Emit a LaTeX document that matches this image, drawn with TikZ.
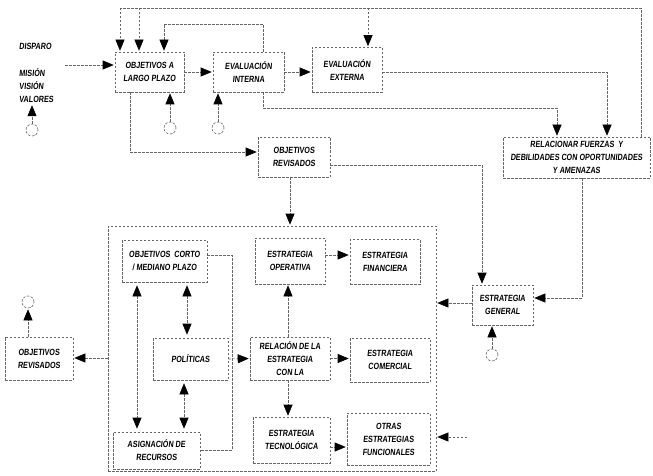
\documentclass[tikz,border=0pt]{standalone}
\usepackage{fontspec}
\setmainfont{Liberation Sans}[BoldFont={Liberation Sans Bold},FakeStretch=0.8,FakeSlant=0.1]
\usetikzlibrary{arrows.meta}
\begin{document}
\begin{tikzpicture}[x=1pt,y=-1pt,
  ln/.style={draw=black!60, line width=0.6pt, dash pattern=on 2.5pt off 1.5pt},
  arr/.style={ln, -{Triangle[length=11pt,width=9pt,color=black]}, shorten >=1pt},
  arrb/.style={ln, {Triangle[length=11pt,width=9pt,color=black]}-{Triangle[length=11pt,width=9pt,color=black]}, shorten >=3pt, shorten <=3pt},
  txt/.style={align=center, inner sep=1pt, font=\bfseries\fontsize{9}{13}\selectfont},
  box/.style={ln, rectangle, txt},
  circ/.style={ln, circle, minimum size=12pt, inner sep=0pt}]
\useasboundingbox (0,0) rectangle (653,476);

% texts on the left
\node[txt, anchor=west] (disparo) at (18,46) {DISPARO};
\node[txt, anchor=west, align=left] (mvv) at (18,86) {MISIÓN\\VISIÓN\\VALORES};

% upper row
\node[box, minimum width=69pt, minimum height=40pt] (largo) at (149.5,72) {OBJETIVOS A\\LARGO PLAZO};
\node[box, minimum width=71pt, minimum height=40pt] (interna) at (248.5,72) {EVALUACIÓN\\INTERNA};
\node[box, minimum width=70pt, minimum height=45pt] (externa) at (347,70) {EVALUACIÓN\\EXTERNA};
\node[box, minimum width=72pt, minimum height=40pt] (revis1) at (294,157) {OBJETIVOS\\REVISADOS};
\node[box, minimum width=147pt, minimum height=41pt] (relac) at (576.5,157.5) {RELACIONAR FUERZAS \ Y\\DEBILIDADES CON OPORTUNIDADES\\Y AMENAZAS};

% big box
\node[ln, rectangle, minimum width=328pt, minimum height=245pt] (big) at (272,348.5) {};
\node[box, minimum width=85pt, minimum height=42pt] (corto) at (164.5,261) {OBJETIVOS \ CORTO\\/ MEDIANO PLAZO};
\node[box, minimum width=70pt, minimum height=46pt] (operativa) at (290,261) {ESTRATEGIA\\OPERATIVA};
\node[box, minimum width=70pt, minimum height=45pt] (financiera) at (385,262) {ESTRATEGIA\\FINANCIERA};
\node[box, minimum width=75pt, minimum height=42pt] (politicas) at (190.5,359) {POLÍTICAS};
\node[box, minimum width=80pt, minimum height=43pt] (relacion) at (290,358.5) {RELACIÓN DE LA\\ESTRATEGIA\\CON LA};
\node[box, minimum width=80pt, minimum height=44pt] (comercial) at (390,360) {ESTRATEGIA\\COMERCIAL};
\node[box, minimum width=87pt, minimum height=37pt] (asignacion) at (156.5,450.5) {ASIGNACIÓN DE\\RECURSOS};
\node[box, minimum width=77pt, minimum height=46pt] (tecno) at (291.5,440) {ESTRATEGIA\\TECNOLÓGICA};
\node[box, minimum width=83pt, minimum height=52pt] (otras) at (388.5,439) {OTRAS\\ESTRATEGIAS\\FUNCIONALES};

% right and left boxes
\node[box, minimum width=61pt, minimum height=40pt] (general) at (502.5,305) {ESTRATEGIA\\GENERAL};
\node[box, minimum width=68pt, minimum height=43pt] (revis2) at (39,358.5) {OBJETIVOS\\REVISADOS};

% connector circles
\node[circ] (c1) at (32,130) {};
\node[circ] (c2) at (170,128) {};
\node[circ] (c3) at (218,128) {};
\node[circ] (c4) at (28,302) {};
\node[circ] (c5) at (492,355) {};

% free ends
\coordinate (trig) at (65,65);
\coordinate (tr) at (641,8);
\coordinate (tl) at (120,8);
\coordinate (tm) at (139,8);
\coordinate (te) at (368,8);
\coordinate (stub) at (467,437);

% upper connectors
\draw[arr] (trig) -- (largo.west |- trig);
\draw[arr] (largo.east) -- (interna.west);
\draw[arr] (interna.east) -- (externa.west |- interna.east);
\draw[arr] (externa.east |- 0,72) -| (relac.north -| 607,0);
\draw[arr] (interna.south -| 263,0) |- (557,108) -- (relac.north -| 557,0);
\draw[ln] (relac.north -| tr) -- (tr) -- (tl);
\draw[arr] (tl) -- (largo.north -| tl);
\draw[arr] (tm) -- (largo.north -| tm);
\draw[arr] (te) -- (externa.north -| te);
\draw[arr] (interna.north -| 263,0) |- (164,24) -- (largo.north -| 164,0);
\draw[arr] (largo.south -| 130,0) |- (revis1.west |- 0,152);
\draw[arr] (c1) -- (mvv.south -| c1);
\draw[arr] (c2) -- (largo.south -| c2);
\draw[arr] (c3) -- (interna.south -| c3);

% middle connectors
\draw[arr] (revis1.south -| 290,0) -- (big.north -| 290,0);
\draw[arr] (revis1.east |- 0,165) -| (general.north -| 482,0);
\draw[arr] (relac.south -| 582,0) |- (general.east |- 0,298);
\draw[arr] (general.west |- 0,303) -- (big.east |- 0,303);
\draw[arr] (c5) -- (general.south -| c5);
\draw[arr] (big.west |- 0,358) -- (revis2.east |- 0,358);
\draw[arr] (revis2.north -| c4) -- (c4);
\draw[arr] (stub) -- (big.east |- stub);

% inside the big box
\draw[arrb] (corto.south -| 137,0) -- (asignacion.north -| 137,0);
\draw[arrb] (corto.south -| 187,0) -- (politicas.north -| 187,0);
\draw[arrb] (politicas.south -| 184,0) -- (asignacion.north -| 184,0);
\draw[ln] (corto.east |- 0,255) -| (232,450) -- (asignacion.east |- 0,450);
\draw[arr] (politicas.east) -- (relacion.west);
\draw[arr] (relacion.north -| 288,0) -- (operativa.south -| 288,0);
\draw[arr] (relacion.south -| 288,0) -- (tecno.north -| 288,0);
\draw[arr] (operativa.east |- 0,255) -- (financiera.west |- 0,255);
\draw[arr] (relacion.east) -- (comercial.west |- relacion.east);
\draw[arr] (tecno.east |- 0,447) -- (otras.west |- 0,447);
\end{tikzpicture}
\end{document}
